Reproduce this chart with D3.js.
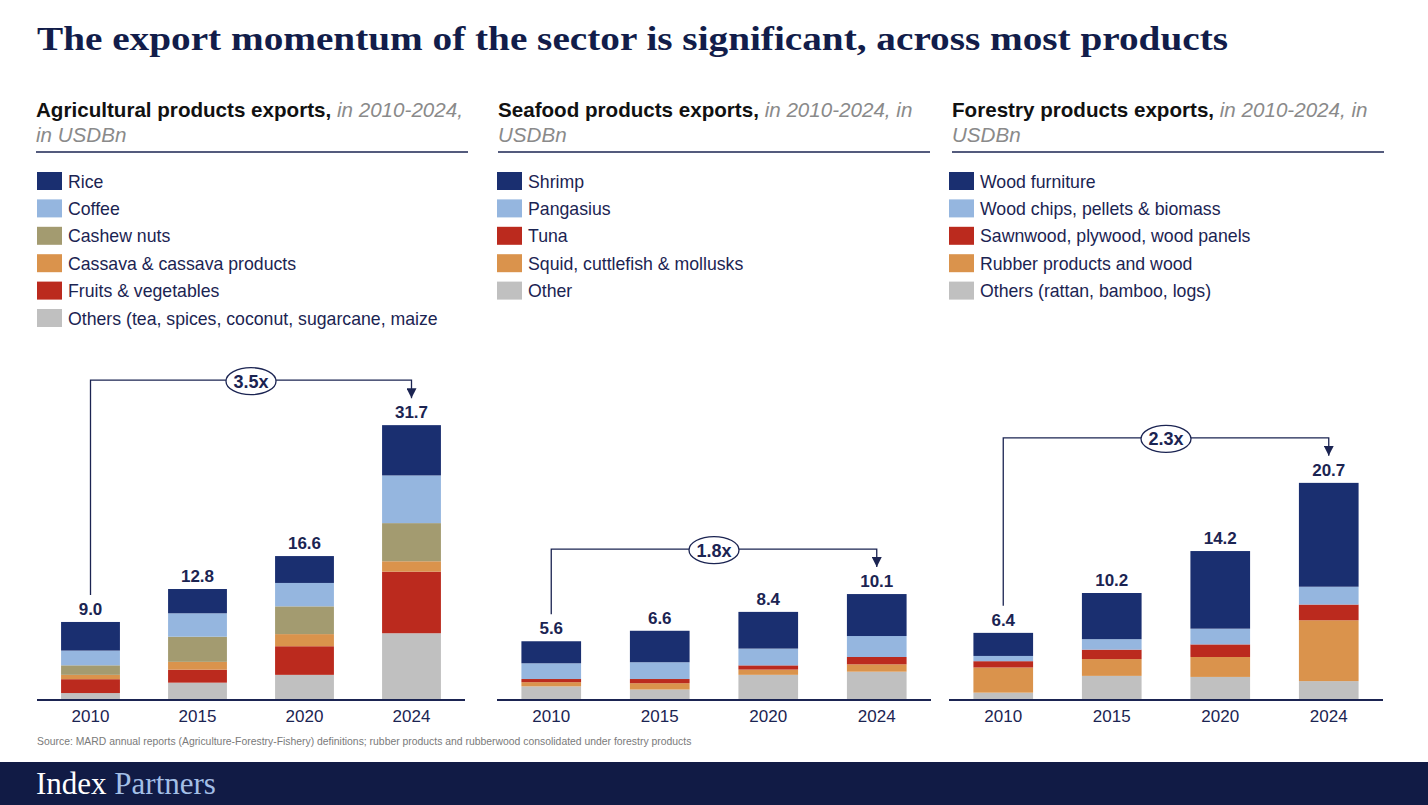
<!DOCTYPE html>
<html><head><meta charset="utf-8">
<script src="https://cdn.jsdelivr.net/npm/d3@7"></script>
<style>
html,body{margin:0;padding:0;background:#fff;}
svg{display:block;}
</style></head>
<body>
<script>
// ---------- DATA ----------
const years = ["2010", "2015", "2020", "2024"];

// Agricultural (USD bn)
const agriKeys = ["Rice", "Coffee", "Cashew nuts", "Cassava & cassava products", "Fruits & vegetables", "Others (tea, spices, coconut, sugarcane, maize"];
const agriRice = [3.3, 2.8, 3.1, 5.8];
const agriCoffee = [1.7, 2.7, 2.7, 5.5];
const agriCashew = [1.1, 2.9, 3.2, 4.4];
const agriCassava = [0.5, 0.9, 1.4, 1.2];
const agriFruits = [1.6, 1.5, 3.3, 7.1];
const agriOthers = [0.8, 2.0, 2.9, 7.7];
const agriTotals = [9.0, 12.8, 16.6, 31.7];

// Seafood (USD bn)
const seaKeys = ["Shrimp", "Pangasius", "Tuna", "Squid, cuttlefish & mollusks", "Other"];
const seaShrimp = [2.1, 3.0, 3.5, 4.0];
const seaPangasius = [1.5, 1.6, 1.6, 2.0];
const seaTuna = [0.3, 0.4, 0.4, 0.7];
const seaSquid = [0.4, 0.6, 0.5, 0.7];
const seaOther = [1.3, 1.0, 2.4, 2.7];
const seaTotals = [5.6, 6.6, 8.4, 10.1];

// Forestry (USD bn)
const forKeys = ["Wood furniture", "Wood chips, pellets & biomass", "Sawnwood, plywood, wood panels", "Rubber products and wood", "Others (rattan, bamboo, logs)"];
const forFurniture = [2.2, 4.4, 7.4, 9.9];
const forChips = [0.5, 1.0, 1.5, 1.7];
const forSawn = [0.6, 0.9, 1.2, 1.5];
const forRubber = [2.4, 1.6, 1.9, 5.8];
const forOthers = [0.7, 2.3, 2.2, 1.8];
const forTotals = [6.4, 10.2, 14.2, 20.7];

const multiples = ["3.5x", "1.8x", "2.3x"];

const titleText = "The export momentum of the sector is significant, across most products";
const panelTitles = ["Agricultural products exports,", "Seafood products exports,", "Forestry products exports,"];
const panelSubs1 = [" in 2010-2024,", " in 2010-2024, in", " in 2010-2024, in"];
const panelSubs2 = ["in USDBn", "USDBn", "USDBn"];
const sourceText = "Source:  MARD annual reports (Agriculture-Forestry-Fishery) definitions; rubber products and rubberwood consolidated under forestry products";

// ---------- STYLE ----------
const TEXTNAVY = "#1b2452";
const agriColors = ["#1a2f70", "#95b6df", "#a39b70", "#da934c", "#bb2a1e", "#c0c0c0"];
const seaColors = ["#1a2f70", "#95b6df", "#bb2a1e", "#da934c", "#c0c0c0"];
const forColors = ["#1a2f70", "#95b6df", "#bb2a1e", "#da934c", "#c0c0c0"];
const SANS = "Liberation Sans, Arial, sans-serif";

const W = 1428, H = 805;
const svg = d3.select("body").append("svg").attr("width", W).attr("height", H);

svg.append("text").attr("x", 37).attr("y", 50)
  .attr("font-family", "Liberation Serif, serif").attr("font-weight", "bold")
  .attr("font-size", 34).attr("fill", "#121d4a")
  .attr("textLength", 1191).attr("lengthAdjust", "spacingAndGlyphs")
  .text(titleText);

function rows(keys, arrays) {
  return years.map((y, i) => {
    const r = {year: y};
    keys.forEach((k, j) => r[k] = arrays[j][i]);
    return r;
  });
}

const panels = [
  {keys: agriKeys, arrays: [agriRice, agriCoffee, agriCashew, agriCassava, agriFruits, agriOthers], totals: agriTotals, colors: agriColors,
   hx: 36, bx: 37, bw: 428, ymax: 34.6},
  {keys: seaKeys, arrays: [seaShrimp, seaPangasius, seaTuna, seaSquid, seaOther], totals: seaTotals, colors: seaColors,
   hx: 498, bx: 497, bw: 434, ymax: 28.6},
  {keys: forKeys, arrays: [forFurniture, forChips, forSawn, forRubber, forOthers], totals: forTotals, colors: forColors,
   hx: 952, bx: 949, bw: 434, ymax: 28.6}
];

const BASE = 700, TOP = 400;

svg.append("defs").append("marker").attr("id", "arr")
  .attr("viewBox", "0 0 10 10").attr("refX", 10).attr("refY", 5)
  .attr("markerWidth", 10).attr("markerHeight", 10).attr("markerUnits", "userSpaceOnUse")
  .attr("orient", "auto")
  .append("path").attr("d", "M0,0 L10,5 L0,10 Z").attr("fill", TEXTNAVY);

panels.forEach((p, pi) => {
  const g = svg.append("g");
  // header
  const ht = g.append("text").attr("x", p.hx).attr("y", 117).attr("font-family", SANS).attr("font-size", 20.6);
  ht.append("tspan").attr("font-weight", "bold").attr("fill", "#111").text(panelTitles[pi]);
  ht.append("tspan").attr("font-style", "italic").attr("fill", "#8a8a8a").text(panelSubs1[pi]);
  g.append("text").attr("x", p.hx).attr("y", 142).attr("font-family", SANS).attr("font-size", 20.6)
    .attr("font-style", "italic").attr("fill", "#8a8a8a").text(panelSubs2[pi]);
  g.append("line").attr("x1", p.hx).attr("x2", p.hx + 432).attr("y1", 152).attr("y2", 152)
    .attr("stroke", "#1b2452").attr("stroke-width", 1.5);

  // legend
  const lg = g.selectAll(".leg").data(p.keys).join("g").attr("transform", (d, i) => `translate(${p.bx},${172 + i * 27.4})`);
  lg.append("rect").attr("width", 25).attr("height", 18).attr("fill", (d, i) => p.colors[i]);
  lg.append("text").attr("x", 31).attr("y", 15.5).attr("font-family", SANS)
    .attr("font-size", 17.7).attr("fill", TEXTNAVY).text(d => d);

  // scales
  const x = d3.scaleBand().domain(years).range([p.bx, p.bx + p.bw]).paddingInner(0.45).paddingOuter(0.225);
  const y = d3.scaleLinear().domain([0, p.ymax]).range([BASE, TOP]);
  const color = d3.scaleOrdinal().domain(p.keys).range(p.colors);

  const data = rows(p.keys, p.arrays);
  const stack = d3.stack().keys(p.keys.slice().reverse())(data);

  g.selectAll(".layer").data(stack).join("g").attr("fill", d => color(d.key))
    .selectAll("rect").data(d => d).join("rect")
    .attr("x", d => x(d.data.year)).attr("width", x.bandwidth())
    .attr("y", d => y(d[1])).attr("height", d => y(d[0]) - y(d[1]));

  // totals
  g.selectAll(".tot").data(years).join("text")
    .attr("x", d => x(d) + x.bandwidth() / 2)
    .attr("y", (d, i) => y(p.totals[i]) - 7)
    .attr("text-anchor", "middle").attr("font-family", SANS)
    .attr("font-weight", "bold").attr("font-size", 17).attr("fill", TEXTNAVY)
    .text((d, i) => d3.format(".1f")(p.totals[i]));

  // axis
  const ax = g.append("g").attr("transform", `translate(0,${BASE})`)
    .call(d3.axisBottom(x).tickSize(0).tickPadding(10));
  ax.select(".domain").attr("stroke", "#1b2452").attr("stroke-width", 2).attr("d", `M${p.bx},0H${p.bx + p.bw}`);
  ax.selectAll("text").attr("font-family", SANS).attr("font-size", 17).attr("fill", TEXTNAVY);

  // growth bracket
  const x1 = x(years[0]) + x.bandwidth() / 2;
  const x2 = x(years[3]) + x.bandwidth() / 2;
  const yTop = y(p.totals[3]) - 45;
  const yStart = y(p.totals[0]) - 27;
  const yEnd = y(p.totals[3]) - 27;
  g.append("path").attr("d", `M${x1},${yStart}V${yTop}H${x2}V${yEnd}`)
    .attr("fill", "none").attr("stroke", TEXTNAVY).attr("stroke-width", 1.3).attr("marker-end", "url(#arr)");
  const cx = (x1 + x2) / 2;
  g.append("ellipse").attr("cx", cx).attr("cy", yTop + 1).attr("rx", 25).attr("ry", 13.5)
    .attr("fill", "#fff").attr("stroke", TEXTNAVY).attr("stroke-width", 1.3);
  g.append("text").attr("x", cx).attr("y", yTop + 7.5).attr("text-anchor", "middle")
    .attr("font-family", SANS).attr("font-weight", "bold").attr("font-size", 18)
    .attr("fill", TEXTNAVY).text(multiples[pi]);
});

// source
svg.append("text").attr("x", 37).attr("y", 745).attr("font-family", SANS)
  .attr("font-size", 10.4).attr("fill", "#7a7a7a").text(sourceText);

// footer
svg.append("rect").attr("x", 0).attr("y", 762).attr("width", W).attr("height", H - 762).attr("fill", "#111b45");
const ft = svg.append("text").attr("x", 36).attr("y", 794).attr("font-family", "Liberation Serif, serif").attr("font-size", 31);
ft.append("tspan").attr("fill", "#ffffff").text("Index ");
ft.append("tspan").attr("fill", "#a3bfe6").text("Partners");
</script>
</body></html>
